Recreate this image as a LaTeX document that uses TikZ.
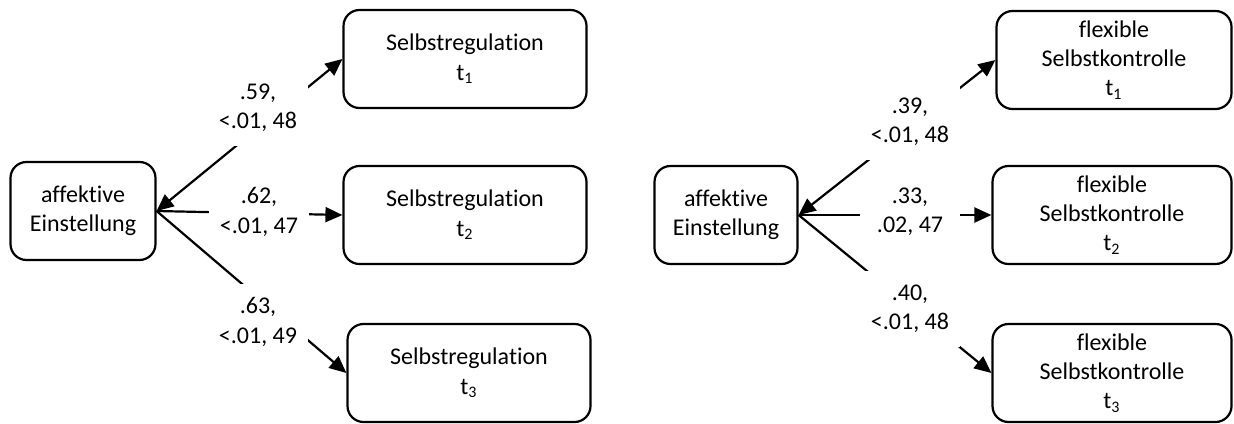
\documentclass[tikz,border=0pt]{standalone}
\usepackage{fontspec}
\setmainfont{Carlito}[Ligatures=NoCommon]
\usetikzlibrary{arrows.meta}

\begin{document}
\begin{tikzpicture}[x=0.5pt,y=-0.5pt,line width=1.1pt,
        font=\fontsize{12}{14.6}\selectfont,
        >={Triangle[length=8.5pt,width=7.5pt]},
        box/.style={shape=rectangle,rounded corners=8pt,draw=black,align=center,minimum height=49pt,inner sep=0pt},
        lbl/.style={fill=white,align=center,minimum width=50pt,minimum height=38pt,inner sep=0pt}]
        \useasboundingbox (0,0) rectangle (1234,423);

        % left panel
        \node[box,minimum width=72.5pt] (A) at (83,211) {affektive\\Einstellung};
        \node[box,minimum width=121.5pt] (S1) at (465,59) {Selbstregulation\\t\textsubscript{1}};
        \node[box,minimum width=121.5pt] (S2) at (465,215) {Selbstregulation\\t\textsubscript{2}};
        \node[box,minimum width=121.5pt] (S3) at (469,373) {Selbstregulation\\t\textsubscript{3}};

        \path [<->](A.east) edge (S1.west);
        \path [->](A.east) edge (S2.west);
        \path [->](A.east) edge (S3.west);

        \node[lbl] (LA1) at (258,108) {.59,\\<.01, 48};
        \node[lbl] (LA2) at (259,212) {.62,\\<.01, 47};
        \node[lbl] (LA3) at (258,322) {.63,\\<.01, 49};

        % right panel
        \node[box,minimum width=71.5pt] (B) at (726,215) {affektive\\Einstellung};
        \node[box,minimum width=117.5pt] (K1) at (1114,60) {flexible\\Selbstkontrolle\\t\textsubscript{1}};
        \node[box,minimum width=119.5pt] (K2) at (1112,215) {flexible\\Selbstkontrolle\\t\textsubscript{2}};
        \node[box,minimum width=119.5pt] (K3) at (1112,373) {flexible\\Selbstkontrolle\\t\textsubscript{3}};

        \path [<->](B.east) edge (K1.west);
        \path [->](B.east) edge (K2.west);
        \path [->](B.east) edge (K3.west);

        \node[lbl] (LB1) at (910,122) {.39,\\<.01, 48};
        \node[lbl] (LB2) at (910,212) {.33,\\.02, 47};
        \node[lbl] (LB3) at (910,309) {.40,\\<.01, 48};
    \end{tikzpicture}
\end{document}
